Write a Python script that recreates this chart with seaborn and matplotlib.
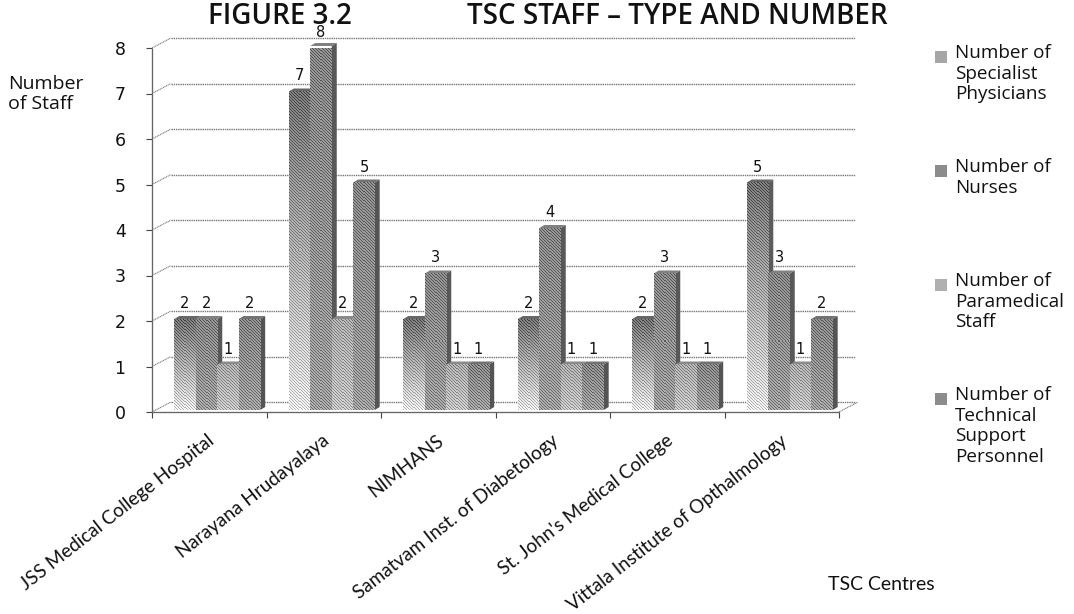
import matplotlib
matplotlib.use('Agg')
import matplotlib.pyplot as plt
import matplotlib.transforms as mtrans
from matplotlib.patches import Polygon, Rectangle
import seaborn as sns
import pandas as pd
import numpy as np

# Values
centres = ['JSS Medical College Hospital', 'Narayana Hrudayalaya', 'NIMHANS',
           'Samatvam Inst. of Diabetology', "St. John's Medical College",
           'Vittala Institute of Opthalmology']
physicians = [2, 7, 2, 2, 2, 5]
nurses = [2, 8, 3, 4, 3, 3]
paramedical = [1, 2, 1, 1, 1, 1]
technical = [2, 5, 1, 1, 1, 2]
y_ticks = list(range(0, 9))
legend_labels = ['Number of\nSpecialist\nPhysicians', 'Number of\nNurses',
                 'Number of\nParamedical\nStaff',
                 'Number of\nTechnical\nSupport\nPersonnel']

W, H = 1074, 614

df = pd.DataFrame({'Centre': centres, 'Physicians': physicians, 'Nurses': nurses,
                   'Paramedical': paramedical, 'Technical': technical})
df = df.melt(id_vars='Centre', var_name='Type', value_name='Staff')

sns.set_style('white')
plt.rcParams['font.family'] = ['Open Sans', 'DejaVu Sans']

fig = plt.figure(figsize=(W / 100, H / 100), dpi=100)
ax = fig.add_axes([152 / W, 1 - 412 / H, 687 / W, 364 / H])

sns.barplot(data=df, x='Centre', y='Staff', hue='Type', width=0.75, legend=False,
            palette=['#bbbbbb', '#666666', '#a0a0a0', '#707070'], ax=ax)
ax.set_xlim(-0.5, 5.5)
ax.set_ylim(0, 8)
ax.set_xlabel('')
ax.set_ylabel('')

px_x = 687 / 6
px_y = 364 / 8
bar_shift = ax.transData + mtrans.Affine2D().translate(8, 2)
wall_shift = ax.transData + mtrans.Affine2D().translate(19, 10)

# back wall gridlines and the slanted ticks up to them
ax.hlines(y_ticks, -0.5, 5.5 - 3 / px_x, color='#777777', lw=1.0, ls=(0, (1, 0.6)),
          transform=wall_shift, zorder=0, clip_on=False)
dx_wall, dy_wall = 19 / px_x, 10 / px_y
for v in y_ticks:
    ax.plot([-0.5, -0.5 + dx_wall], [v, v + dy_wall], color='#777777', lw=0.8,
            ls=(0, (1, 0.6)), clip_on=False, zorder=0)
ax.plot([5.5, 5.5 + dx_wall], [0, dy_wall], color='#777777', lw=0.8,
        ls=(0, (1, 0.6)), clip_on=False, zorder=0)

# (bottom, top) gray of each series, with a fine diagonal weave like the scan
tones = [(0.88, 0.42), (0.60, 0.50), (0.74, 0.64), (0.60, 0.50)]
side_tones = ['#5c5c5c', '#585858', '#626262', '#545454']
top_tones = ['#666666', '#808080', '#8a8a8a', '#737373']
depth_x, depth_y = 5 / px_x, 3 / px_y

z = 2
for cont, tone, side, top in zip(ax.containers, tones, side_tones, top_tones):
    for bar in cont:
        x, w, h = bar.get_x(), bar.get_width(), bar.get_height()
        rows, cols = int(round(h * px_y)), int(round(w * px_x))
        gray = np.tile(np.linspace(tone[0], tone[1], rows)[:, None], (1, cols))
        yy, xx = np.indices((rows, cols))
        weave = ((xx + yy) % 3 == 0).astype(float)
        img = ax.imshow(gray + 0.09 - 0.27 * weave, cmap='gray', vmin=0, vmax=1,
                        extent=[x, x + w, 0, h], origin='lower', aspect='auto',
                        interpolation='nearest', zorder=z + 1)
        img.set_transform(bar_shift)
        bar.set_transform(bar_shift)
        bar.set_facecolor('none')
        bar.set_edgecolor('none')
        ax.add_patch(Polygon([(x + w, 0), (x + w, h), (x + w + depth_x, h + depth_y),
                              (x + w + depth_x, depth_y)], closed=True, fc=side,
                             ec='none', transform=bar_shift, clip_on=False, zorder=z))
        ax.add_patch(Polygon([(x, h), (x + w, h), (x + w + depth_x, h + depth_y),
                              (x + depth_x, h + depth_y)], closed=True, fc=top,
                             ec='none', transform=bar_shift, clip_on=False, zorder=z))
        # the tallest label sits lower so it clears the title
        lift = 6 if h == max(nurses) else 8
        ax.annotate(f'{h:.0f}', xy=(x + w / 2, h), xycoords=bar_shift, xytext=(0, lift),
                    textcoords='offset pixels', ha='center', va='bottom', fontsize=10.5,
                    color='#111111', family='DejaVu Sans', zorder=40, annotation_clip=False)
        z += 2
ax.set_xlim(-0.5, 5.5)
ax.set_ylim(0, 8)

# axes
for name in ['top', 'right']:
    ax.spines[name].set_visible(False)
for name in ['left', 'bottom']:
    ax.spines[name].set_color('#666666')
    ax.spines[name].set_linewidth(0.9)
    ax.spines[name].set_linestyle((0, (1, 0.6)))
ax.set_yticks(y_ticks)
ax.tick_params(axis='y', length=4, width=0.8, color='#444444', left=True, pad=15,
               labelsize=12.5, labelcolor='#111111')
ax.set_xticks(np.arange(-0.5, 6), minor=True)
ax.tick_params(axis='x', which='minor', length=4, width=0.8, color='#444444', bottom=True)
ax.tick_params(axis='x', which='major', length=0)
ax.set_xticks(range(len(centres)))
ax.set_xticklabels(centres, rotation=38, ha='right', rotation_mode='anchor',
                   fontsize=13.6, family='Lato', color='#111111')
label_shift = mtrans.Affine2D().translate(-2, -15)
for lab in ax.get_xticklabels():
    lab.set_transform(lab.get_transform() + label_shift)
for lab in ax.get_yticklabels():
    lab.set_family('DejaVu Sans')

# titles and axis captions
fig.text(208 / W, 1 - 17 / H, 'FIGURE 3.2', fontsize=20, fontweight='semibold',
         va='center', color='#111111')
fig.text(467 / W, 1 - 17 / H, 'TSC STAFF – TYPE AND NUMBER', fontsize=20, fontweight='semibold',
         va='center', color='#111111')
fig.text(8 / W, 1 - 94 / H, 'Number\nof Staff', fontsize=14, va='center', linespacing=1.1,
         color='#111111')
fig.text(828 / W, 1 - 585 / H, 'TSC Centres', fontsize=14, family='Lato', va='center',
         color='#111111')

# legend, evenly spaced entries as in the picture
for i, (label, tone) in enumerate(zip(legend_labels, tones)):
    mid_y = 57 + i * 114
    fig.text(955 / W, 1 - (mid_y - 13) / H, label, fontsize=13.6, va='top', linespacing=1.18,
             color='#111111')
    g = str(round(sum(tone) / 2, 2))
    fig.add_artist(Rectangle((935 / W, 1 - (mid_y + 6) / H), 12 / W, 12 / H, fc=g, ec='none',
                             transform=fig.transFigure))

fig.savefig('out.png', dpi=100)
